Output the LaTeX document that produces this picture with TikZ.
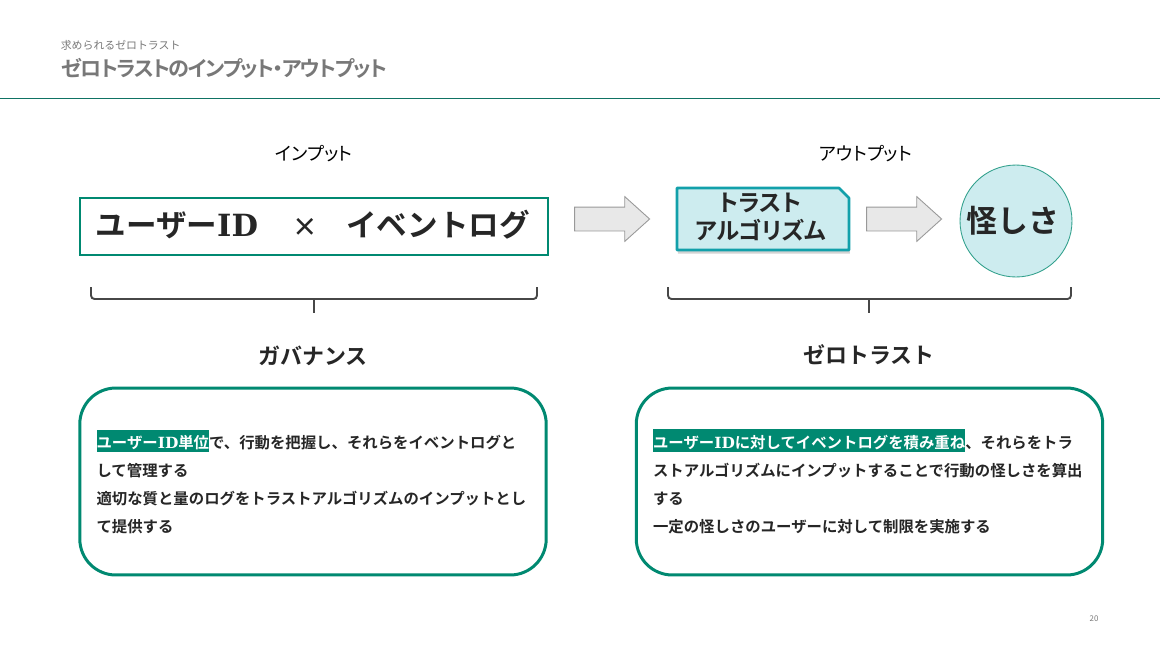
\documentclass[tikz,border=0pt]{standalone}
\usepackage{fontspec}
\setmainfont{Noto Sans CJK JP}[BoldFont={Noto Sans CJK JP Bold}]
\newfontfamily\paltfont{Noto Sans CJK JP}[BoldFont={Noto Sans CJK JP Bold},RawFeature={+palt}]
\newfontfamily\titlefont{Noto Sans CJK JP}[BoldFont={Noto Sans CJK JP Bold},RawFeature={+palt},LetterSpace=-7]
\newfontfamily\idfont{DejaVu Serif}[BoldFont={DejaVu Serif Bold}]
\usepackage{tikz}
\usetikzlibrary{shapes.arrows, shadows, positioning}
\definecolor{deepgreen}{RGB}{0, 137, 113}
\definecolor{ruleteal}{RGB}{15, 115, 100}
\definecolor{algoteal}{RGB}{18, 160, 170}
\definecolor{paleteal}{RGB}{205, 236, 239}
\definecolor{inkgray}{RGB}{38, 38, 38}
\definecolor{titlegray}{RGB}{120, 120, 120}
\newcommand{\markword}[1]{{\setlength{\fboxsep}{0pt}\colorbox{deepgreen}{\color{white}\vphantom{ガ}\rule[-2.2pt]{0pt}{13pt}#1}}}

\begin{document}
\begin{tikzpicture}[
  x=0.02cm, y=-0.02cm,
  panel/.style={draw=deepgreen, line width=1.7pt, fill=white, rounded corners=0.72cm, minimum width=9.33cm, minimum height=3.74cm,
    inner xsep=0pt, text width=8.66cm, align=left, text=inkgray, font=\fontsize{8.76}{15.87}\selectfont\bfseries},
  heading/.style={font=\fontsize{12.5}{15}\selectfont\bfseries, text=inkgray},
  caption/.style={font=\fontsize{10.4}{12}\selectfont\paltfont, text=black},
  blockarrow/.style={single arrow, draw=gray!80, fill=gray!18, line width=0.5pt, inner xsep=0pt, inner ysep=0.23cm, minimum height=1.5cm,
    single arrow head extend=0.21cm, single arrow tip angle=84},
  brace/.style={draw=inkgray!85, line width=1.1pt, rounded corners=2pt}
]
  \useasboundingbox (0, 0) rectangle (1160, 653);

  % Header
  \node[anchor=west, inner sep=0pt, text=titlegray, font=\fontsize{6.2}{8}\selectfont] (sub) at (60.5, 45) {求められるゼロトラスト};
  \node[anchor=west, inner sep=0pt, text=titlegray, font=\fontsize{12}{15}\selectfont\titlefont\bfseries] (title) at (61, 68) {ゼロトラストのインプット・アウトプット};
  \coordinate (ruleL) at (0, 98.5);
  \coordinate (ruleR) at (1160, 98.5);
  \draw[ruleteal, line width=1.1pt] (ruleL) -- (ruleR);

  % Captions
  \node[caption] (incap) at (314, 154) {インプット};
  \node[caption] (outcap) at (866, 154) {アウトプット};

  % Flow
  \node[draw=deepgreen, line width=1.4pt, minimum width=9.36cm, minimum height=1.14cm, inner sep=0pt, text=inkgray, font=\fontsize{17.4}{20}\selectfont\bfseries] (input) at (314, 226.5)
    {\raisebox{4.2pt}{\hspace*{-1.5pt}ユーザー{\idfont ID}\hspace{1em}\hspace{2pt}{\fontsize{14.5}{15}\selectfont ×}\hspace{1em}\hspace{-1pt}イベントログ}};
  \node[blockarrow] (arrowa) at (605.5, 219) {};
  \draw[draw=algoteal, fill=paleteal, line width=1.5pt, line join=round, drop shadow={shadow xshift=0.5pt, shadow yshift=-2pt, opacity=0.35}]
    (677, 188) -- (839, 188) -- (849, 198) -- (849, 250) -- (677, 250) -- cycle;
  \node[align=center, text=inkgray, inner sep=0pt, font=\fontsize{13.3}{15.9}\selectfont\paltfont\bfseries] (algotext) at (760.5, 217) {トラスト\\アルゴリズム};
  \node[blockarrow] (arrowb) at (897.5, 219) {};
  \node[circle, draw=deepgreen!80, fill=paleteal, line width=0.5pt, minimum size=2.24cm, inner sep=0pt, text=inkgray,
    font=\fontsize{17.6}{20}\selectfont\bfseries] (risk) at (1016, 221) {\hspace*{-3pt}\raisebox{-1pt}{怪しさ}};

  % Braces
  \coordinate (govL) at (91, 287);
  \coordinate (govR) at (537, 287);
  \coordinate (govM) at (314, 299);
  \coordinate (govS) at (314, 313);
  \draw[brace] (govL) |- (govM) -| (govR);
  \draw[brace] (govM) -- (govS);
  \coordinate (ztL) at (668, 287);
  \coordinate (ztR) at (1071, 287);
  \coordinate (ztM) at (869, 299);
  \coordinate (ztS) at (869, 313);
  \draw[brace] (ztL) |- (ztM) -| (ztR);
  \draw[brace] (ztM) -- (ztS);

  % Lower panels
  \node[heading] (gov) at (313, 356) {ガバナンス};
  \node[heading] (zt) at (869, 355) {ゼロトラスト};
  \node[panel] (govbox) at (313, 481.5) {\markword{ユーザー{\idfont ID}単位}で、行動を把握し、それらをイベントログと\\
    して管理する\\
    適切な質と量のログをトラストアルゴリズムのインプットとし\\
    て提供する};
  \node[panel] (ztbox) at (869.5, 481.5) {\markword{ユーザー{\idfont ID}に対してイベントログを積み重ね}、それらをトラ\\
    ストアルゴリズムにインプットすることで行動の怪しさを算出\\
    する\\
    一定の怪しさのユーザーに対して制限を実施する};

  % Page number
  \node[text=titlegray, inner sep=0pt, font=\fontsize{4.5}{6}\selectfont] (page) at (1094, 619) {20};
\end{tikzpicture}
\end{document}
